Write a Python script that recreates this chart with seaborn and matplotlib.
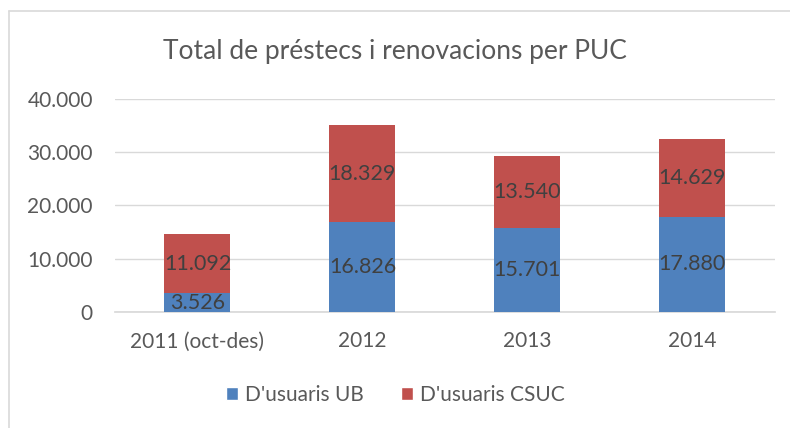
import matplotlib
matplotlib.use('Agg')
import matplotlib.pyplot as plt
import pandas as pd
import seaborn as sns
from matplotlib.lines import Line2D
from matplotlib.patches import Patch

# Dades
anys = ['2011 (oct-des)', '2012', '2013', '2014']
usuaris_ub = [3526, 16826, 15701, 17880]
usuaris_csuc = [11092, 18329, 13540, 14629]
series = ["D'usuaris UB", "D'usuaris CSUC"]
y_ticks = [0, 10000, 20000, 30000, 40000]

blau = '#4F81BD'
vermell = '#C0504D'
gris_text = '#595959'

sns.set_theme(style='white')
plt.rcParams['font.family'] = ['Lato', 'DejaVu Sans']

df = pd.DataFrame({'any': anys, 'ub': usuaris_ub, 'csuc': usuaris_csuc})
df['total'] = df['ub'] + df['csuc']

fig = plt.figure(figsize=(7.9, 4.28), dpi=100)
ax = fig.add_axes([0.1456, 0.271, 0.835, 0.498])

sns.barplot(data=df, x='any', y='total', color=vermell, width=0.4,
            saturation=1, linewidth=0, ax=ax, zorder=2)
sns.barplot(data=df, x='any', y='ub', color=blau, width=0.4,
            saturation=1, linewidth=0, ax=ax, zorder=3)

def fmt(v):
    return f'{v:,}'.replace(',', '.')

for i, row in df.iterrows():
    ax.text(i, row['ub'] / 2, fmt(row['ub']), ha='center', va='center',
            fontsize=15.5, color='#404040', zorder=4)
    ax.text(i, row['ub'] + row['csuc'] / 2, fmt(row['csuc']), ha='center',
            va='center', fontsize=15.5, color='#404040', zorder=4)

ax.set_xlim(-0.5, 3.5)
ax.set_ylim(0, 40000)
ax.set_yticks(y_ticks)
ax.set_yticklabels([fmt(v) for v in y_ticks])
ax.yaxis.grid(True, color='#D9D9D9', linewidth=1, zorder=0)
ax.set_axisbelow(True)
for s in ['top', 'right', 'left']:
    ax.spines[s].set_visible(False)
ax.spines['bottom'].set_color('#D9D9D9')
ax.tick_params(axis='both', length=0, labelsize=15, colors=gris_text)
ax.tick_params(axis='y', pad=16)
ax.tick_params(axis='x', pad=14)
ax.set_xlabel('')
ax.set_ylabel('')

fig.text(0.5, 0.88, 'Total de préstecs i renovacions per PUC', ha='center',
         va='center', fontsize=19, color=gris_text)

handles = [Patch(facecolor=blau, label=series[0]),
           Patch(facecolor=vermell, label=series[1])]
fig.legend(handles=handles, loc='center', bbox_to_anchor=(0.5, 0.077), ncol=2,
           frameon=False, fontsize=15, labelcolor=gris_text,
           handlelength=0.6, handleheight=0.6, handletextpad=0.3,
           columnspacing=1.8)

# Vora del gràfic
fig.add_artist(Line2D([8.5 / 790, 1], [1 - 10.5 / 428, 1 - 10.5 / 428],
                      color='#D9D9D9', linewidth=1.2, transform=fig.transFigure))
fig.add_artist(Line2D([8.5 / 790, 8.5 / 790], [0, 1 - 10.5 / 428],
                      color='#D9D9D9', linewidth=1.2, transform=fig.transFigure))

fig.savefig('out.png', dpi=100)
